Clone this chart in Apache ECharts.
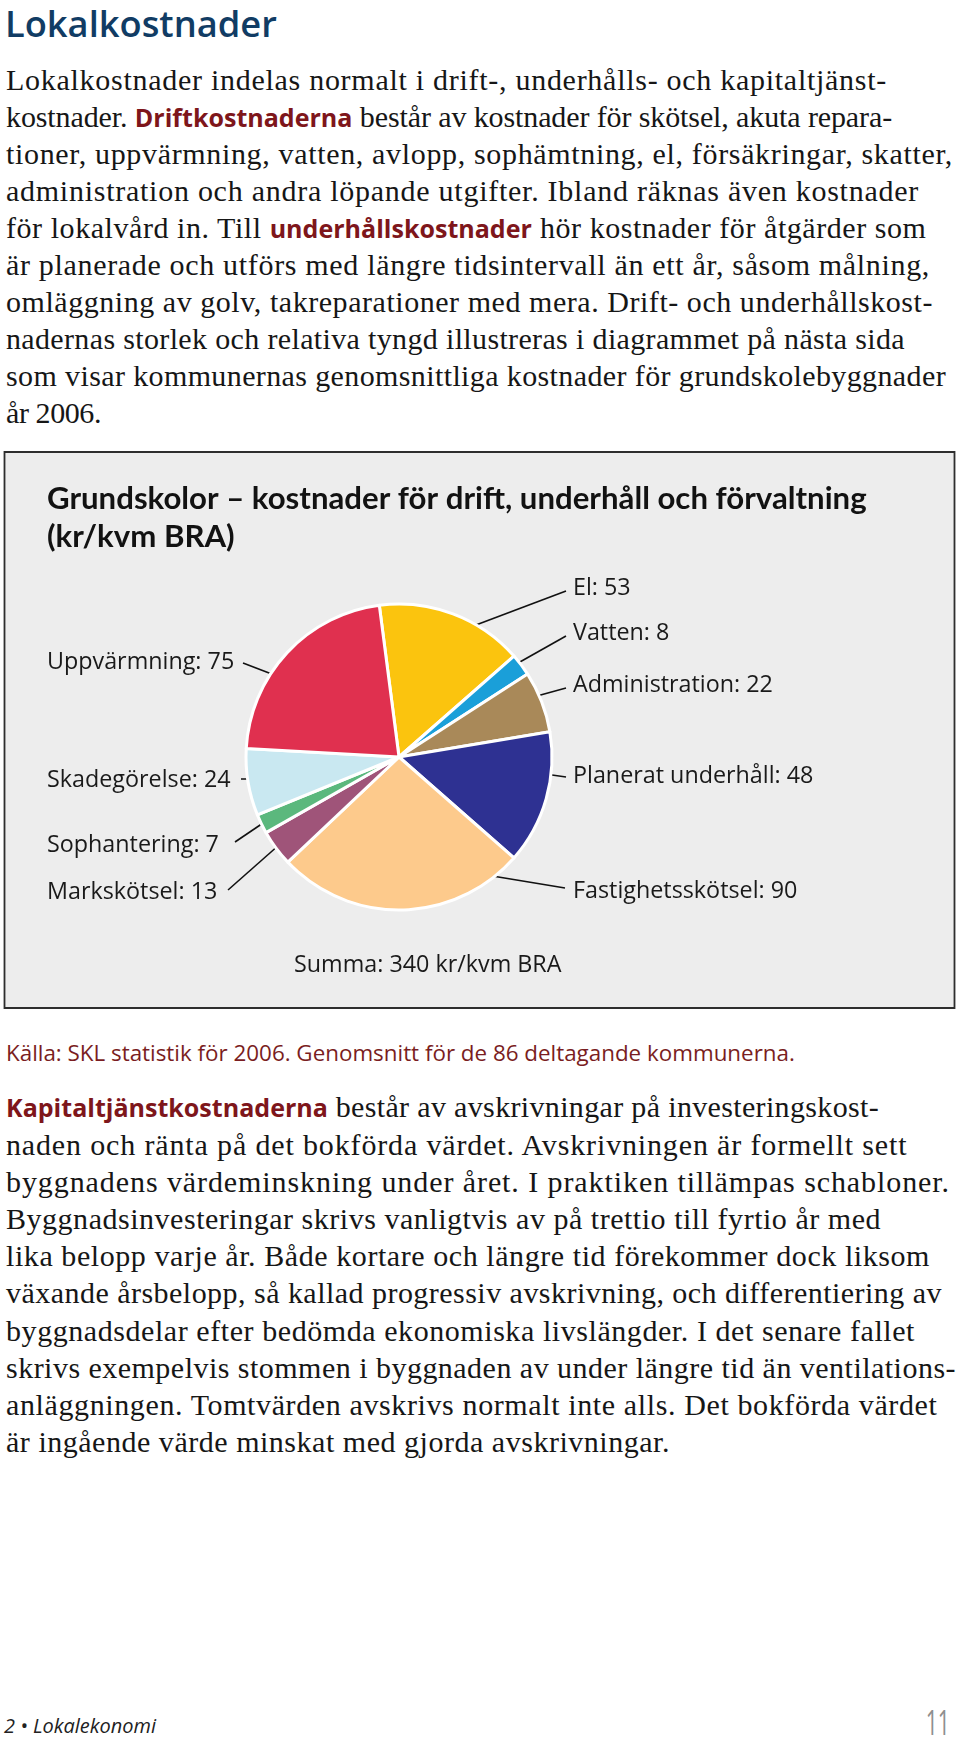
<!DOCTYPE html>
<html><head><meta charset="utf-8">
<script src="https://cdn.jsdelivr.net/npm/echarts@6/dist/echarts.min.js"></script>
<style>
html,body{margin:0;padding:0;background:#ffffff;}
#page{position:relative;width:960px;height:1737px;overflow:hidden;background:#fff;}
.t{position:absolute;white-space:pre;}
.ln{position:absolute;left:6px;white-space:pre;font-family:'Liberation Serif',serif;color:#161616;}
.em{font-family:'Open Sans',sans-serif;font-weight:700;color:#7e161b;letter-spacing:0;}
#chart{position:absolute;left:0;top:0;width:960px;height:1737px;}
</style></head>
<body><div id="page">
<div id="h1" class="t">Lokalkostnader</div>
<div id="p1"></div>
<div id="p2"></div>
<div id="src" class="t">Källa: SKL statistik för 2006. Genomsnitt för de 86 deltagande kommunerna.</div>
<div id="foot" class="t">2 • Lokalekonomi</div>
<div id="pnum" class="t">11</div>
<div id="chart"></div>
</div>
<script>
// ---------- data ----------
const categories = ['El', 'Vatten', 'Administration', 'Planerat underhåll', 'Fastighetsskötsel', 'Markskötsel', 'Sophantering', 'Skadegörelse', 'Uppvärmning'];
const values = [53, 8, 22, 48, 90, 13, 7, 24, 75];
const chartTitle = 'Grundskolor – kostnader för drift, underhåll och förvaltning';
const chartSubtitle = '(kr/kvm BRA)';
const sumUnit = 'kr/kvm BRA';

const P1_LINES = [
  'Lokalkostnader indelas normalt i drift-, underhålls- och kapitaltjänst-',
  'kostnader. **Driftkostnaderna** består av kostnader för skötsel, akuta repara-',
  'tioner, uppvärmning, vatten, avlopp, sophämtning, el, försäkringar, skatter,',
  'administration och andra löpande utgifter. Ibland räknas även kostnader',
  'för lokalvård in. Till **underhållskostnader** hör kostnader för åtgärder som',
  'är planerade och utförs med längre tidsintervall än ett år, såsom målning,',
  'omläggning av golv, takreparationer med mera. Drift- och underhållskost-',
  'nadernas storlek och relativa tyngd illustreras i diagrammet på nästa sida',
  'som visar kommunernas genomsnittliga kostnader för grundskolebyggnader',
  'år 2006.'
];
const P2_LINES = [
  '**Kapitaltjänstkostnaderna** består av avskrivningar på investeringskost-',
  'naden och ränta på det bokförda värdet. Avskrivningen är formellt sett',
  'byggnadens värdeminskning under året. I praktiken tillämpas schabloner.',
  'Byggnadsinvesteringar skrivs vanligtvis av på trettio till fyrtio år med',
  'lika belopp varje år. Både kortare och längre tid förekommer dock liksom',
  'växande årsbelopp, så kallad progressiv avskrivning, och differentiering av',
  'byggnadsdelar efter bedömda ekonomiska livslängder. I det senare fallet',
  'skrivs exempelvis stommen i byggnaden av under längre tid än ventilations-',
  'anläggningen. Tomtvärden avskrivs normalt inte alls. Det bokförda värdet',
  'är ingående värde minskat med gjorda avskrivningar.'
];

// ---------- styles / layout ----------
const SLICE_COLORS = ['#fbc40e', '#1a9fd9', '#a98959', '#2e3192', '#fdca8c', '#9f5479', '#5bb87d', '#c9e8f1', '#e0304f'];
// right edges of the ragged text lines (page layout)
const P1_RIGHT = [887, 892, 953, 919, 927, 930, 933, 905, 946, 101];
const P2_RIGHT = [879, 909, 950, 881, 930, 942, 915, 956, 938, 670];
// label anchor (left-middle) and leader line [inner point, outer point]
const LABEL_LAYOUT = [
  {x: 573, y: 588, a: [460, 631], b: [566, 591]},
  {x: 573, y: 633, a: [511, 667], b: [566, 636]},
  {x: 573, y: 685, a: [526, 699], b: [566, 688]},
  {x: 573, y: 776, a: [538, 773], b: [566, 777]},
  {x: 573, y: 891, a: [450, 869], b: [565, 888]},
  {x: 47, y: 892, a: [288, 837], b: [228, 890]},
  {x: 47, y: 845, a: [272, 817], b: [235, 842]},
  {x: 47, y: 780, a: [300, 779], b: [241, 779]},
  {x: 47, y: 662, a: [303, 686], b: [243, 663]}
];

const cv = document.createElement('canvas').getContext('2d');
function measure(text, font) { cv.font = font; return cv.measureText(text).width; }
function fit(text, pre, family, target) { return 100 * target / measure(text, pre + ' 100px ' + family); }

const OS = "'Open Sans'";
const LATO = "Lato";
function placeBase(el, fs, baseline, asc, desc) {
  el.style.fontSize = fs + 'px';
  el.style.lineHeight = fs + 'px';
  el.style.top = (baseline - (fs * (1 - asc - desc) / 2 + asc * fs)) + 'px';
}

// page heading
const h1 = document.getElementById('h1');
const h1fs = fit('Lokalkostnader', '600', OS, 272);
h1.style.fontFamily = OS; h1.style.fontWeight = '600'; h1.style.color = '#113c64'; h1.style.left = '5px';
placeBase(h1, h1fs, 37.5, 1.069, 0.293);

// body paragraphs
const BFS = 30, BLH = 37;
const emFs = fit('Kapitaltjänstkostnaderna', '700', OS, 322);
const serifFont = BFS + "px 'Liberation Serif'";
const emFont = '700 ' + emFs + "px 'Open Sans'";
function buildPara(id, lines, rights, firstBase, step) {
  const host = document.getElementById(id);
  const lsList = lines.map((ln, i) => {
    let w = 0, n = 0;
    ln.split('**').forEach((seg, k) => {
      if (k % 2 === 1) w += measure(seg, emFont);
      else { w += measure(seg, serifFont); n += seg.length; }
    });
    return (rights[i] - 6 - w) / n;
  });
  lines.forEach((ln, i) => {
    const d = document.createElement('div');
    d.className = 'ln';
    d.style.fontSize = BFS + 'px';
    d.style.lineHeight = BLH + 'px';
    d.style.letterSpacing = lsList[i] + 'px';
    const off = (BLH - BFS * (0.891 + 0.216)) / 2 + 0.891 * BFS;
    d.style.top = (firstBase + i * step - off) + 'px';
    ln.split('**').forEach((seg, k) => {
      const s = document.createElement('span');
      s.textContent = seg;
      if (k % 2 === 1) { s.className = 'em'; s.style.fontSize = emFs + 'px'; }
      d.appendChild(s);
    });
    host.appendChild(d);
  });
}
buildPara('p1', P1_LINES, P1_RIGHT, 89.5, 37.05);
buildPara('p2', P2_LINES, P2_RIGHT, 1117, 37.2);

// source line
const src = document.getElementById('src');
const srcFs = fit(src.textContent, '400', OS, 789);
src.style.fontFamily = OS; src.style.color = '#7a1d21'; src.style.left = '6px';
placeBase(src, srcFs, 1061.5, 1.069, 0.293);

// footer
const foot = document.getElementById('foot');
const footFs = fit(foot.textContent, 'italic 400', OS, 152);
foot.style.fontFamily = OS; foot.style.fontStyle = 'italic'; foot.style.color = '#222'; foot.style.left = '4px';
placeBase(foot, footFs, 1734, 1.069, 0.293);
const pnum = document.getElementById('pnum');
pnum.style.fontFamily = OS; pnum.style.color = '#8f8f8f'; pnum.style.right = '10px';
pnum.style.transform = 'scaleX(0.62)'; pnum.style.transformOrigin = 'right center';
placeBase(pnum, 34, 1735, 1.069, 0.293);

// ---------- chart ----------
const titleFs = fit(chartTitle, 'bold', LATO, 820);
const labelFs = fit('Administration: 22', '400', OS, 200);
const total = values.reduce((a, b) => a + b, 0);

const chart = echarts.init(document.getElementById('chart'), null, {renderer: 'canvas'});
chart.setOption({
  animation: false,
  backgroundColor: 'transparent',
  title: {
    text: chartTitle + '\n' + chartSubtitle,
    left: 47, top: 499 - 19, padding: 0,
    textStyle: {fontFamily: LATO, fontWeight: 'bold', fontSize: titleFs, lineHeight: 38, color: '#121212'}
  },
  graphic: [
    {type: 'rect', z: 0, silent: true,
     shape: {x: 4.5, y: 452, width: 950, height: 556},
     style: {fill: '#ededed', stroke: '#2e2e2e', lineWidth: 1.8}},
    {type: 'text', z: 5, silent: true, x: 294, y: 965,
     style: {text: 'Summa: ' + total + ' ' + sumUnit, fontFamily: OS, fontSize: labelFs, fill: '#1a1a1a',
             align: 'left', verticalAlign: 'middle', textAlign: 'left', textVerticalAlign: 'middle'}}
  ],
  series: [{
    type: 'pie',
    center: [399, 757],
    radius: 153,
    startAngle: 97.4,
    clockwise: true,
    avoidLabelOverlap: false,
    silent: true,
    z: 3,
    data: categories.map((c, i) => ({name: c, value: values[i], itemStyle: {color: SLICE_COLORS[i]}})),
    itemStyle: {borderColor: '#ffffff', borderWidth: 3},
    label: {show: true, formatter: '{b}: {c}', fontFamily: OS, fontSize: labelFs, color: '#1a1a1a'},
    labelLine: {show: true, lineStyle: {color: '#111111', width: 1.6}},
    labelLayout: function (p) {
      const L = LABEL_LAYOUT[p.dataIndex];
      return {x: L.x, y: L.y, align: 'left', verticalAlign: 'middle',
              labelLinePoints: [L.a, [(L.a[0] + L.b[0]) / 2, (L.a[1] + L.b[1]) / 2], L.b]};
    }
  }]
});
</script>
</body></html>
